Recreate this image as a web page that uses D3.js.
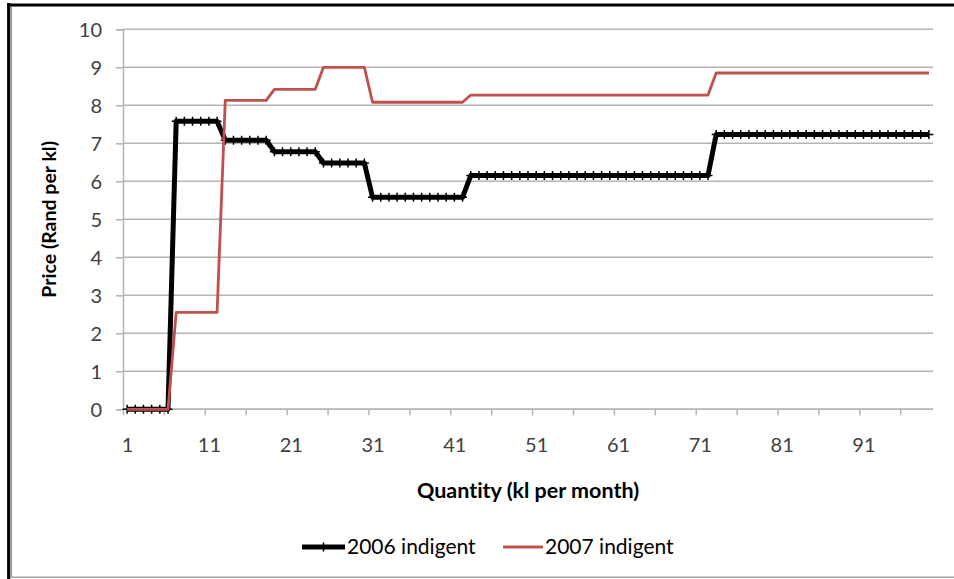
<!DOCTYPE html>
<html>
<head>
<meta charset="utf-8">
<script src="https://cdn.jsdelivr.net/npm/d3@7"></script>
<style>
  html, body { margin: 0; padding: 0; background: #fff; }
  svg { display: block; font-family: Lato, "Open Sans", sans-serif; }
  svg text { font-variant-ligatures: none; font-feature-settings: "liga" 0, "clig" 0; }
</style>
</head>
<body>
<svg id="chart" width="954" height="579"></svg>
<script>
// Monthly water quantity (kl), one category per kl
const quantity = [
   1,  2,  3,  4,  5,  6,  7,  8,  9, 10, 11, 12, 13, 14, 15, 16, 17, 18, 19, 20,
  21, 22, 23, 24, 25, 26, 27, 28, 29, 30, 31, 32, 33, 34, 35, 36, 37, 38, 39, 40,
  41, 42, 43, 44, 45, 46, 47, 48, 49, 50, 51, 52, 53, 54, 55, 56, 57, 58, 59, 60,
  61, 62, 63, 64, 65, 66, 67, 68, 69, 70, 71, 72, 73, 74, 75, 76, 77, 78, 79, 80,
  81, 82, 83, 84, 85, 86, 87, 88, 89, 90, 91, 92, 93, 94, 95, 96, 97, 98, 99
];

// Price per kl, 2006 indigent tariff
const price2006 = [
  0, 0, 0, 0, 0, 0,
  7.58, 7.58, 7.58, 7.58, 7.58, 7.58,
  7.08, 7.08, 7.08, 7.08, 7.08, 7.08,
  6.78, 6.78, 6.78, 6.78, 6.78, 6.78,
  6.48, 6.48, 6.48, 6.48, 6.48, 6.48,
  5.58, 5.58, 5.58, 5.58, 5.58, 5.58, 5.58, 5.58, 5.58, 5.58, 5.58, 5.58,
  6.15, 6.15, 6.15, 6.15, 6.15, 6.15, 6.15, 6.15, 6.15, 6.15,
  6.15, 6.15, 6.15, 6.15, 6.15, 6.15, 6.15, 6.15, 6.15, 6.15,
  6.15, 6.15, 6.15, 6.15, 6.15, 6.15, 6.15, 6.15, 6.15, 6.15,
  7.23, 7.23, 7.23, 7.23, 7.23, 7.23, 7.23, 7.23, 7.23, 7.23,
  7.23, 7.23, 7.23, 7.23, 7.23, 7.23, 7.23, 7.23, 7.23, 7.23,
  7.23, 7.23, 7.23, 7.23, 7.23, 7.23, 7.23
];

// Price per kl, 2007 indigent tariff
const price2007 = [
  0, 0, 0, 0, 0, 0,
  2.55, 2.55, 2.55, 2.55, 2.55, 2.55,
  8.13, 8.13, 8.13, 8.13, 8.13, 8.13,
  8.42, 8.42, 8.42, 8.42, 8.42, 8.42,
  9.00, 9.00, 9.00, 9.00, 9.00, 9.00,
  8.08, 8.08, 8.08, 8.08, 8.08, 8.08, 8.08, 8.08, 8.08, 8.08, 8.08, 8.08,
  8.27, 8.27, 8.27, 8.27, 8.27, 8.27, 8.27, 8.27, 8.27, 8.27,
  8.27, 8.27, 8.27, 8.27, 8.27, 8.27, 8.27, 8.27, 8.27, 8.27,
  8.27, 8.27, 8.27, 8.27, 8.27, 8.27, 8.27, 8.27, 8.27, 8.27,
  8.85, 8.85, 8.85, 8.85, 8.85, 8.85, 8.85, 8.85, 8.85, 8.85,
  8.85, 8.85, 8.85, 8.85, 8.85, 8.85, 8.85, 8.85, 8.85, 8.85,
  8.85, 8.85, 8.85, 8.85, 8.85, 8.85, 8.85
];

const xTickLabels = [1, 11, 21, 31, 41, 51, 61, 71, 81, 91];
const xTickMarks = [1, 6, 11, 16, 21, 26, 31, 36, 41, 46, 51, 56, 61, 66, 71, 76, 81, 86, 91, 96];
const yTicks = [0, 1, 2, 3, 4, 5, 6, 7, 8, 9, 10];

const seriesNames = ["2006 indigent", "2007 indigent"];
const seriesColors = ["#000000", "#c0504d"];

const svg = d3.select("#chart");
const plot = { left: 123, right: 933, top: 29.3, bottom: 409.3 };

// Categories sit in the middle of equal bands; tick marks fall on band edges
const x = d3.scaleLinear().domain([0.5, quantity.length + 0.5]).range([plot.left, plot.right]);
const y = d3.scaleLinear().domain([0, 10]).range([plot.bottom, plot.top]);

// Outer frame of the chart area
const frame = svg.append("g");
frame.append("line").attr("x1", 8.7).attr("x2", 8.7).attr("y1", 3).attr("y2", 579)
  .attr("stroke", "#000").attr("stroke-width", 3.2);
frame.append("line").attr("x1", 11.3).attr("x2", 11.3).attr("y1", 6.5).attr("y2", 577)
  .attr("stroke", "#9a9a9a").attr("stroke-width", 1.6);
frame.append("line").attr("x1", 7).attr("x2", 954).attr("y1", 5).attr("y2", 5)
  .attr("stroke", "#000").attr("stroke-width", 3);
frame.append("line").attr("x1", 10).attr("x2", 954).attr("y1", 577.3).attr("y2", 577.3)
  .attr("stroke", "#a8a8a8").attr("stroke-width", 1.6);

// Horizontal gridlines
svg.append("g")
  .selectAll("line")
  .data(yTicks)
  .join("line")
  .attr("x1", plot.left).attr("x2", plot.right)
  .attr("y1", d => y(d)).attr("y2", d => y(d))
  .attr("stroke", "#b4b4b4").attr("stroke-width", 1.5);

// Y axis
const yAxis = svg.append("g")
  .attr("transform", `translate(${plot.left},0)`)
  .call(d3.axisLeft(y).tickValues(yTicks).tickSize(7).tickPadding(14).tickFormat(d3.format("d")));
yAxis.select(".domain").attr("stroke", "#b4b4b4").attr("stroke-width", 1.5);
yAxis.selectAll(".tick line").attr("stroke", "#b4b4b4").attr("stroke-width", 1.5);
yAxis.selectAll(".tick text")
  .attr("font-family", "Lato, sans-serif").attr("font-size", 20).attr("fill", "#404040")
  .attr("dy", "0.36em");

// X axis: tick marks on band edges, labels on category centres
const xAxis = svg.append("g")
  .attr("transform", `translate(0,${plot.bottom})`)
  .call(d3.axisBottom(x).tickValues(xTickMarks.map(d => d - 0.5)).tickSize(6).tickFormat(""));
xAxis.select(".domain").attr("stroke", "#b4b4b4").attr("stroke-width", 1.5)
  .attr("d", `M${plot.left},0H${plot.right}`);
xAxis.selectAll(".tick line").attr("stroke", "#b4b4b4").attr("stroke-width", 1.5);

const xLabels = svg.append("g")
  .attr("transform", `translate(0,${plot.bottom})`)
  .call(d3.axisBottom(x).tickValues(xTickLabels).tickSize(0).tickPadding(29).tickFormat(d3.format("d")));
xLabels.select(".domain").remove();
xLabels.selectAll(".tick text")
  .attr("font-family", "Lato, sans-serif").attr("font-size", 20).attr("fill", "#404040");

// Axis titles
svg.append("text")
  .attr("x", (plot.left + plot.right) / 2).attr("y", 498)
  .attr("text-anchor", "middle")
  .attr("font-size", 21.5).attr("font-weight", "bold").attr("fill", "#000")
  .text("Quantity (kl per month)");
svg.append("text")
  .attr("transform", `translate(56,${(plot.top + plot.bottom) / 2}) rotate(-90)`)
  .attr("text-anchor", "middle")
  .attr("font-size", 19.5).attr("font-weight", "bold").attr("fill", "#000")
  .text("Price (Rand per kl)");

// Series lines
const line = d3.line().x((d, i) => x(quantity[i])).y(d => y(d));

svg.append("path")
  .datum(price2006)
  .attr("d", line)
  .attr("fill", "none").attr("stroke", seriesColors[0]).attr("stroke-width", 5)
  .attr("stroke-linejoin", "round");

// Plus markers on the 2006 series
const markers = svg.append("g").attr("stroke", "#000").attr("stroke-width", 1.5);
markers.selectAll("path")
  .data(price2006)
  .join("path")
  .attr("d", (d, i) => {
    const cx = x(quantity[i]), cy = y(d);
    return `M${cx},${cy - 4.5}V${cy + 4.5}M${cx - 4.5},${cy}H${cx + 4.5}`;
  });

svg.append("path")
  .datum(price2007)
  .attr("d", line)
  .attr("fill", "none").attr("stroke", seriesColors[1]).attr("stroke-width", 2.8)
  .attr("stroke-linejoin", "round");

// Legend
const legend = svg.append("g");
const legendItems = [
  { x1: 302, x2: 345, tx: 347 },
  { x1: 503, x2: 543, tx: 545 }
];
legendItems.forEach((it, i) => {
  legend.append("line")
    .attr("x1", it.x1).attr("x2", it.x2).attr("y1", 547).attr("y2", 547)
    .attr("stroke", seriesColors[i]).attr("stroke-width", i === 0 ? 5 : 2.8);
  if (i === 0) {
    const cx = (it.x1 + it.x2) / 2;
    legend.append("path")
      .attr("d", `M${cx},542.5V551.5M${cx - 4.5},547H${cx + 4.5}`)
      .attr("stroke", "#000").attr("stroke-width", 1.5);
  }
  legend.append("text")
    .attr("x", it.tx).attr("y", 547).attr("dy", "0.35em")
    .attr("font-size", 21).attr("fill", "#000")
    .text(seriesNames[i]);
});
</script>
</body>
</html>
